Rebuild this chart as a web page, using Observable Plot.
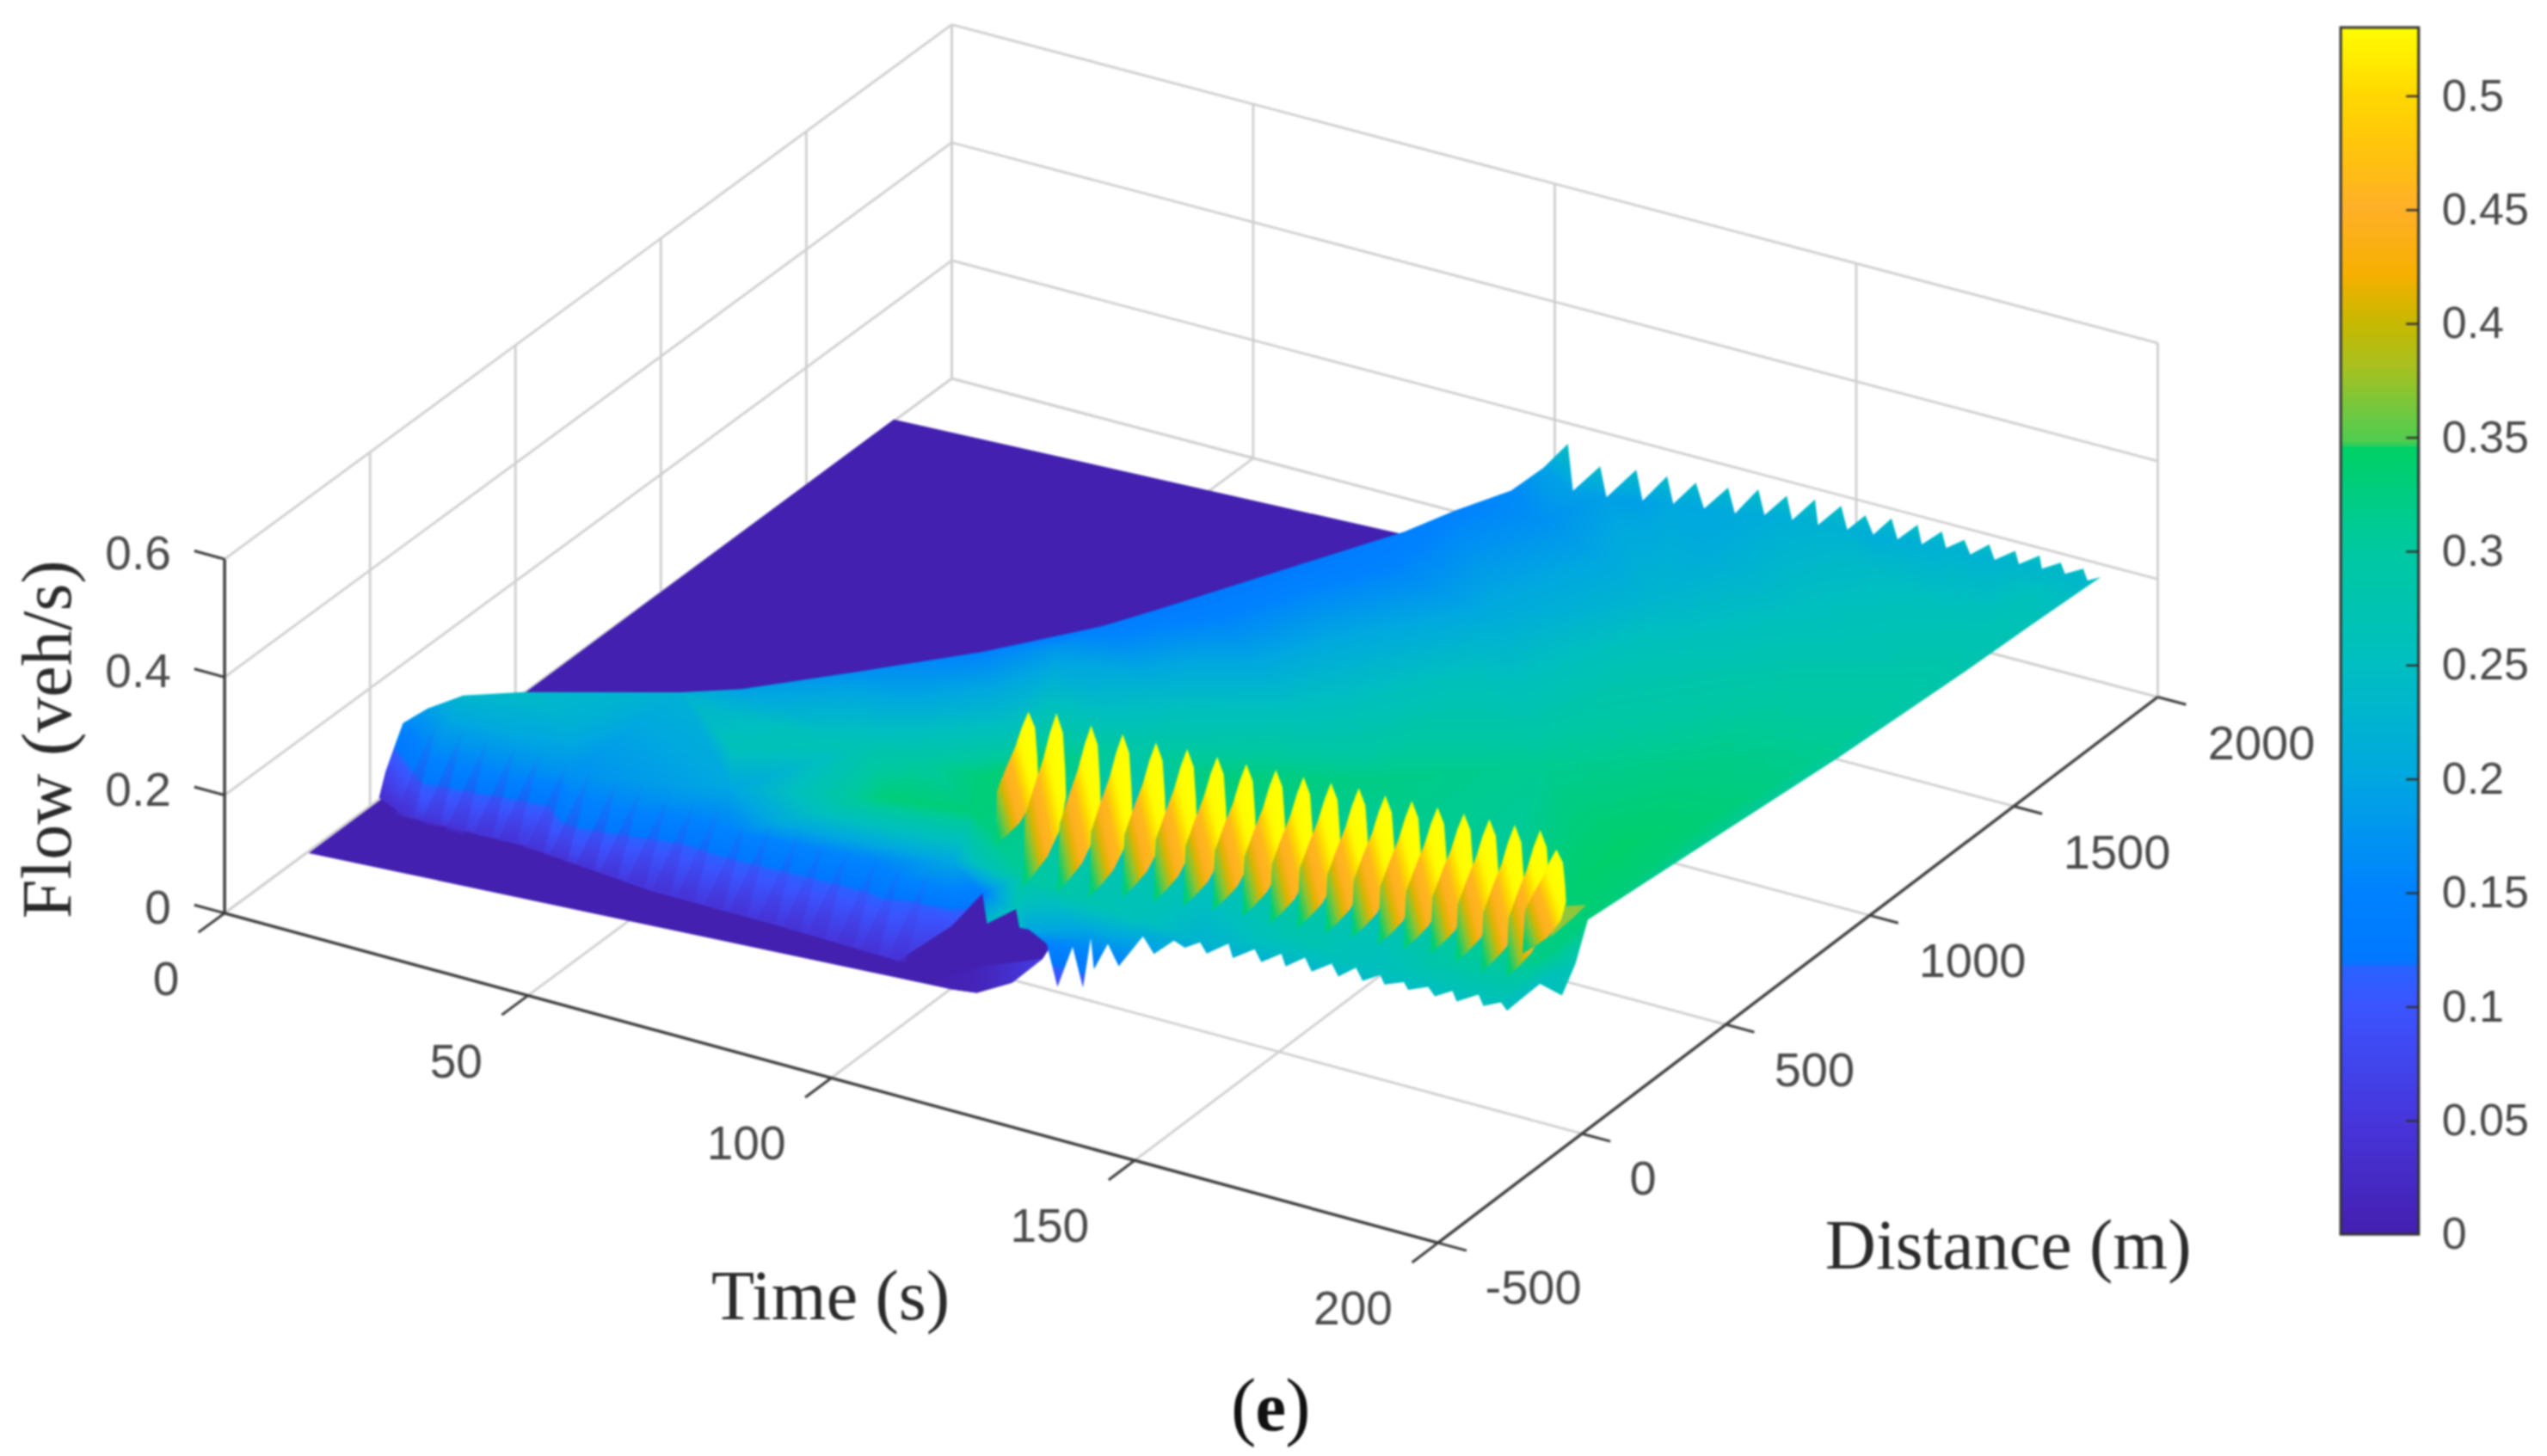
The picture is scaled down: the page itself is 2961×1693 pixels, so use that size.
<!DOCTYPE html>
<html><head><meta charset="utf-8">
<style>html,body{margin:0;padding:0;background:#fff}svg{display:block;filter:blur(0.9px)}</style>
<script src="https://cdn.jsdelivr.net/npm/d3@7"></script>
<script src="https://cdn.jsdelivr.net/npm/@observablehq/plot@0.6"></script>
</head><body>
<script>
// ---------- axis ticks ----------
const timeTicks = [0, 50, 100, 150, 200];
const distTicks = [-500, 0, 500, 1000, 1500, 2000];
const flowTicks = [0, 0.2, 0.4, 0.6];
const barTicks = [0, 0.05, 0.1, 0.15, 0.2, 0.25, 0.3, 0.35, 0.4, 0.45, 0.5];
const barTickLabels = ["0", "0.05", "0.1", "0.15", "0.2", "0.25", "0.3", "0.35", "0.4", "0.45", "0.5"];
// ---------- colour map ----------
const mapFlow = [0, 0.05, 0.1, 0.116, 0.119, 0.15, 0.2, 0.25, 0.3, 0.344, 0.347, 0.36, 0.38, 0.4, 0.42, 0.45, 0.47, 0.5, 0.53];
const mapColor = ["#4420b0", "#4736dc", "#3a55ff", "#2a62ff", "#0078ff", "#0082ff", "#00a8e0", "#00bfc0", "#00c9a0", "#00d066", "#50cc50", "#70c840", "#a8c020", "#c8b800", "#f5b000", "#ffb028", "#ffc010", "#ffd800", "#ffff00"];
// ---------- flat floor of the surface (flow = 0) ----------
const floorTime = [0.5, 1.6, 92.4, 94.3, 106.4, 106.6, 103.9, 100.4];
const floorDist = [-220, 1781, 1871, 677, 97, -13, -79, -90];
const lobeTime = [100.4, 103.9, 106.6, 106.4, 100.6, 96.3];
const lobeDist = [-90, -79, -13, 97, 19, -94];
// ---------- raised front of the surface, left end to far corner ----------
const ridgeTime = [3, 3.4, 5.1, 6.2, 9.7, 15.7, 23.4, 40.6, 44.6, 54.3, 64.1, 73.5, 76.9, 85.9, 94.8, 98.5, 103, 106.1];
const ridgeDist = [-29, -15, -19, -13, -1, -5, 42, 226, 352, 562, 780, 997, 1133, 1388, 1591, 1690, 1788, 1834];
const ridgeFlow = [0.03, 0.07, 0.12, 0.16, 0.19, 0.23, 0.24, 0.22, 0.19, 0.17, 0.15, 0.14, 0.13, 0.13, 0.14, 0.15, 0.16, 0.19];
// ---------- saw teeth along the far edge ----------
const peakTime = [110.9, 117.5, 122.4, 127.2, 131.7, 136.4, 140.8, 145.3, 149.2, 153.5, 157.5, 161.8, 166.1, 170.1, 173.8, 177.9, 182.2, 186.2, 189.7, 193.4, 196.3];
const peakDist = [1819, 1792, 1814, 1820, 1825, 1838, 1850, 1854, 1870, 1870, 1870, 1870, 1870, 1870, 1870, 1870, 1870, 1870, 1870, 1870, 1870];
const peakFlow = [0.25, 0.24, 0.24, 0.24, 0.24, 0.24, 0.245, 0.245, 0.244, 0.245, 0.24, 0.247, 0.248, 0.248, 0.244, 0.248, 0.249, 0.252, 0.25, 0.25, 0.244];
const valleyTime = [113.4, 118.5, 123.4, 128.6, 133.1, 138.1, 142.4, 147, 151.4, 155.7, 158.8, 162.8, 166.8, 170.8, 174.8, 178.8, 182.8, 186.6, 190.4, 194.1];
const valleyDist = [1784, 1793, 1815, 1812, 1824, 1826, 1838, 1837, 1834, 1845, 1870, 1870, 1870, 1870, 1870, 1870, 1870, 1870, 1870, 1870];
const valleyFlow = [0.19, 0.19, 0.19, 0.2, 0.2, 0.205, 0.21, 0.215, 0.22, 0.22, 0.211, 0.214, 0.217, 0.222, 0.222, 0.224, 0.228, 0.231, 0.233, 0.232];
// ---------- right edge, far to near ----------
const edgeTime = [197.6, 198.5, 198.9, 197.5, 197.4, 199.9, 194.4];
const edgeDist = [1599, 1356, 910, 71, 30, -69, -30];
const edgeFlow = [0.265, 0.28, 0.3, 0.33, 0.27, 0.26, 0.25];
// ---------- scalloped skirt under the tall humps, distance about -150 m ----------
const skirtDist = -150;
const skirtTime = [118.8, 120.6, 123.1, 124.8, 126.1, 126.6, 128.9, 130.7, 134.7, 136.5, 139.8, 141.6, 144.1, 145.2, 148.8, 149.5, 153.1, 154.2, 157.5, 158.2, 161.4, 162.5, 165.8, 166.9, 169.8, 170.9, 173.8, 174.5, 177.7, 178.4, 181.7, 182.8, 185.7, 186.4, 190, 190.8, 193.7, 194.7];
const skirtFlow = [0.151, 0.083, 0.158, 0.093, 0.181, 0.129, 0.179, 0.146, 0.208, 0.183, 0.215, 0.208, 0.224, 0.208, 0.235, 0.2125, 0.2375, 0.2186, 0.2422, 0.2224, 0.2463, 0.2257, 0.2485, 0.2296, 0.2527, 0.2338, 0.2514, 0.2374, 0.2504, 0.2394, 0.2535, 0.2408, 0.2579, 0.2418, 0.2636, 0.2466, 0.2609, 0.2493];
// ---------- low front edge, right to left ----------
const frontTime = [119, 121.4, 119.9, 116.8, 101.9, 98.7, 96.4, 94, 74.1, 52.6, 29.6, 10.4];
const frontDist = [-216, -298, -279, -314, -17, -56, -87, -143, -134, -133, -98, -89];
const frontFlow = [0.2, 0.24, 0.26, 0.24, 0.14, 0.09, 0.07, 0.05, 0.05, 0.05, 0.05, 0.04];
// ---------- samples inside the sheet ----------
const sheetTime = [52.3, 67.5, 75.5, 87.1, 98.8, 112.6, 141.3, 166.4, 193.2, 90.2, 102.8, 111.7, 126.2, 145.2, 171.6, 193.5, 106, 111.4, 123, 137.5, 155.5, 179.6, 195.4, 107.2, 106, 130.3, 149, 165.1, 185.7, 197.9, 192.1, 190.9, 196.5, 119.5, 136, 160.2, 185.7, 197.4, 84.2, 9.6, 14.1, 14.9, 32, 35.6, 38.6, 39.4, 59.2, 60.3, 62.6, 64.6, 92.9, 89.8, 86.9, 88.5, 75.8, 89, 101, 98.7];
const sheetDist = [156, 454, 793, 1111, 1425, 1698, 1658, 1692, 1692, 314, 613, 986, 1245, 1409, 1416, 1517, -129, 319, 637, 896, 1080, 1134, 1253, -154, 95, 204, 373, 597, 726, 920, 198, 338, 556, -244, -197, -142, -116, -81, -122, -16, -111, -127, 19, -57, -119, -135, 12, -11, -60, -102, -162, -98, -37, -70, 111, 48, 4, -56];
const sheetFlow = [0.24, 0.2, 0.18, 0.15, 0.15, 0.17, 0.21, 0.24, 0.26, 0.26, 0.24, 0.21, 0.21, 0.23, 0.26, 0.27, 0.33, 0.29, 0.26, 0.26, 0.27, 0.29, 0.29, 0.26, 0.33, 0.33, 0.32, 0.31, 0.32, 0.31, 0.34, 0.34, 0.33, 0.3, 0.26, 0.28, 0.3, 0.32, 0.06, 0.17, 0.13, 0.08, 0.22, 0.17, 0.13, 0.08, 0.26, 0.2, 0.15, 0.1, 0.33, 0.24, 0.16, 0.13, 0.27, 0.3, 0.33, 0.2];
// ---------- tall humps: position of each crest and how far it falls ----------
const humpTime = [114.3, 117.9, 124.1, 129.3, 134.7, 139.5, 144.4, 149.1, 153.6, 158.1, 162.4, 166.6, 171, 175.1, 179.2, 183.4, 187.4, 191.4, 195.3, 198.5];
const humpDist = [-118, -97, -107, -107, -105, -98, -97, -95, -87, -86, -81, -73, -74, -68, -65, -62, -58, -54, -48, -59];
const humpFlow = [0.52, 0.52, 0.52, 0.52, 0.52, 0.52, 0.52, 0.52, 0.52, 0.52, 0.52, 0.52, 0.52, 0.52, 0.52, 0.52, 0.52, 0.52, 0.52, 0.5];
const humpDepth = [0.78, 1, 0.96, 0.945, 0.9, 0.89, 0.87, 0.855, 0.855, 0.855, 0.845, 0.85, 0.83, 0.84, 0.83, 0.82, 0.835, 0.86, 0.86, 0.62];
// outline of one hump relative to its crest
const humpOffTime = [0, 1.08, 1.45, 1.59, 0.72, -1.45, -3.6, -5.6, -5.4, -5.2, -3.6, -2.17, -1.08];
const humpOffFlow = [0, -0.031, -0.093, -0.137, -0.192, -0.247, -0.282, -0.31, -0.258, -0.19, -0.132, -0.084, -0.037];
// small olive piece at the right end
const tailTime = [195.4, 198.7, 199.2, 199.6];
const tailDist = [9, 40, -14, -103];
const tailFlow = [0.37, 0.37, 0.37, 0.37];
// ---------- dark streaks at the foot of the raised front ----------
const streakTime = [10, 14.5, 18.7, 23.4, 27.5, 32.2, 36.3, 41, 45.1, 49.8, 54.1, 58.2, 63, 67.1, 71.8, 76, 80.2, 85, 89.1, 93.7];
const streakDist = [-90, -93, -95, -97, -99, -103, -108, -113, -118, -122, -125, -128, -130, -133, -134, -135, -137, -139, -141, -143];
const streakFlow = [0.04, 0.04, 0.04, 0.05, 0.05, 0.05, 0.05, 0.05, 0.05, 0.05, 0.05, 0.05, 0.05, 0.05, 0.05, 0.05, 0.05, 0.05, 0.05, 0.05];

// ---------- view of (time, distance, flow) on the page ----------
const K = 2961 / 1568;
const vx = (t, d) => K * (138 + 3.735 * t + 0.178 * (d + 500));
const vy = (t, d, f = 0) => K * (562 + 1.015 * t - 0.134 * (d + 500) - 363.3 * f);
const P = (t, d, f = 0) => ({x: vx(t, d), y: vy(t, d, f)});
// the axis box has a slight perspective: its far corners sit a little off the parallelogram
const Q = (t, d, f = 0) => {
  const a = t / 200, b = (d + 500) / 2500;
  return {x: vx(t, d) + 5 * (1 - a) * b - 3.6 * a * b, y: vy(t, d, f) + 11 * (1 - a) * b - 2 * a * b};
};
const barY = v => K * 760 - K * 1402 * v;

// ---------- assemble tables ----------
const outline = [];
ridgeTime.forEach((t, i) => outline.push({t, d: ridgeDist[i], f: ridgeFlow[i]}));
peakTime.forEach((t, i) => {
  outline.push({t, d: peakDist[i], f: peakFlow[i]});
  if (i < valleyTime.length) outline.push({t: valleyTime[i], d: valleyDist[i], f: valleyFlow[i]});
});
edgeTime.forEach((t, i) => outline.push({t, d: edgeDist[i], f: edgeFlow[i]}));
for (let i = skirtTime.length - 1; i >= 0; --i) outline.push({t: skirtTime[i], d: skirtDist, f: skirtFlow[i]});
frontTime.forEach((t, i) => outline.push({t, d: frontDist[i], f: frontFlow[i]}));
const interior = sheetTime.map((t, i) => ({t, d: sheetDist[i], f: sheetFlow[i]}));
const samples = outline.concat(interior).map(s => ({...P(s.t, s.d, s.f), flow: s.f}));

const floorPoly = floorTime.map((t, i) => P(t, floorDist[i]));
const lobePoly = lobeTime.map((t, i) => P(t, lobeDist[i]));
const tailPoly = tailTime.map((t, i) => P(t, tailDist[i], tailFlow[i]));
const humps = humpTime.flatMap((t, i) => humpOffTime.map((dt, j) => ({id: i, ...P(t + dt, humpDist[i], humpFlow[i] + humpOffFlow[j] * humpDepth[i])})));
const streaks = streakTime.flatMap((t, i) => [
  {id: i, ...P(t - 1.5, streakDist[i], streakFlow[i])},
  {id: i, ...P(t + 1.5, streakDist[i], streakFlow[i])},
  {id: i, ...P(t - 3.2, streakDist[i] + 190, 0.135)}
]);

// ---------- box, grid, axes ----------
const seg = (a, b) => ({x1: a.x, y1: a.y, x2: b.x, y2: b.y});
const T0 = 0, T1 = 200, D0 = -500, D1 = 2000, F1 = 0.6;
const grid = [];
for (const t of timeTicks) {
  grid.push(seg(Q(t, D0), Q(t, D1)));
  grid.push(seg(Q(t, D1), Q(t, D1, F1)));
}
for (const d of distTicks) {
  grid.push(seg(Q(T0, d), Q(T1, d)));
  grid.push(seg(Q(T0, d), Q(T0, d, F1)));
}
for (const f of flowTicks) {
  grid.push(seg(Q(T0, D0, f), Q(T0, D1, f)));
  grid.push(seg(Q(T0, D1, f), Q(T1, D1, f)));
}
const axes = [seg(Q(T0, D0), Q(T1, D0)), seg(Q(T1, D0), Q(T1, D1)), seg(Q(T0, D0), Q(T0, D0, F1))];
const ticks = [
  ...timeTicks.map(t => seg(Q(t, D0), Q(t, D0 - 90))),
  ...distTicks.map(d => seg(Q(T1, d), Q(T1 + 4.7, d))),
  ...flowTicks.map(f => seg(Q(T0, D0, f), Q(T0 - 5, D0, f)))
];
const barColors = d3.range(0, 0.53, 0.002);

const serif = "Liberation Serif, Times New Roman, serif";
const sans = "Liberation Sans, Arial, sans-serif";
const tickInk = "#4a4a4a";
const titleInk = "#2a2a2a";

const plot = Plot.plot({
  width: 2961, height: 1693,
  marginLeft: 0, marginRight: 0, marginTop: 0, marginBottom: 0,
  style: {background: "#fff"},
  x: {domain: [0, 2961], range: [0, 2961], axis: null},
  y: {domain: [0, 1693], range: [0, 1693], axis: null},
  color: {type: "linear", domain: mapFlow, range: mapColor, clamp: true},
  marks: [
    Plot.link(grid, {x1: "x1", y1: "y1", x2: "x2", y2: "y2", stroke: "#cfcfcf", strokeWidth: 2.8}),
    Plot.link(axes, {x1: "x1", y1: "y1", x2: "x2", y2: "y2", stroke: "#3c3c3c", strokeWidth: 3.4}),
    Plot.link(ticks, {x1: "x1", y1: "y1", x2: "x2", y2: "y2", stroke: "#3c3c3c", strokeWidth: 3}),
    // floor
    Plot.line(floorPoly, {x: "x", y: "y", fill: "#4320b0", stroke: "none", curve: "linear-closed"}),
    Plot.line(lobePoly, {x: "x", y: "y", fill: "url(#lobeFill)", stroke: "none", curve: "linear-closed"}),
    // smooth sheet
    Plot.raster(samples, {x: "x", y: "y", fill: "flow", interpolate: "barycentric", x1: 380, x2: 2500, y1: 480, y2: 1220, pixelSize: 1}),
    Plot.line(streaks, {x: "x", y: "y", z: "id", fill: "url(#streakFill)", stroke: "none", curve: "linear-closed"}),
    Plot.line(tailPoly, {x: "x", y: "y", fill: "#8fc63c", stroke: "none", curve: "linear-closed"}),
    Plot.line(humps, {x: "x", y: "y", z: "id", fill: "url(#humpFill)", stroke: "none", curve: "linear-closed"}),
    // tick labels
    Plot.text(timeTicks, {x: t => vx(t, D0), y: t => vy(t, D0), text: d => String(d), textAnchor: "end", dx: -K * 28, dy: K * 41, fontSize: 55, fontFamily: sans, fill: tickInk}),
    Plot.text(distTicks, {x: d => vx(T1, d), y: d => vy(T1, d), text: d => String(d), textAnchor: "start", dx: K * 29, dy: K * 28, fontSize: 56, fontFamily: sans, fill: tickInk}),
    Plot.text(flowTicks, {x: f => vx(T0, D0), y: f => vy(T0, D0, f), text: d => String(d), textAnchor: "end", dx: -K * 33, dy: -K * 3, fontSize: 55, fontFamily: sans, fill: tickInk}),
    // axis titles
    Plot.text(["Flow (veh/s)"], {x: K * 29, y: K * 455, text: d => d, rotate: -90, fontSize: 82, fontFamily: serif, fill: titleInk}),
    Plot.text(["Time (s)"], {x: K * 511, y: K * 798, text: d => d, fontSize: 82, fontFamily: serif, fill: titleInk}),
    Plot.text(["Distance (m)"], {x: K * 1236, y: K * 767, text: d => d, fontSize: 82, fontFamily: serif, fill: titleInk}),
    // panel letter
    Plot.text(["("], {x: K * 773, y: K * 866, text: d => d, textAnchor: "end", fontSize: 88, fontFamily: serif, fill: "#111"}),
    Plot.text(["e"], {x: K * 782, y: K * 867, text: d => d, fontSize: 80, fontWeight: "bold", fontFamily: serif, fill: "#111"}),
    Plot.text([")"], {x: K * 791, y: K * 866, text: d => d, textAnchor: "start", fontSize: 88, fontFamily: serif, fill: "#111"}),
    // colour bar
    Plot.rect(barColors, {x1: K * 1441, x2: K * 1489, y1: v => barY(v), y2: v => barY(v + 0.0024), fill: v => v, shapeRendering: "crispEdges"}),
    Plot.rect([0], {x1: K * 1441, x2: K * 1489, y1: barY(0), y2: barY(0.53), fill: "none", stroke: "#333", strokeWidth: 3}),
    Plot.link(barTicks.slice(1), {x1: K * 1481, x2: K * 1489, y1: v => barY(v), y2: v => barY(v), stroke: "#333", strokeWidth: 2.5}),
    Plot.text(barTicks, {x: K * 1503, y: v => barY(v), text: (v, i) => barTickLabels[i], textAnchor: "start", fontSize: 52, fontFamily: sans, fill: tickInk})
  ]
});

// gradients and sheet outline, coloured from the plot's own scales
const NS = "http://www.w3.org/2000/svg";
const col = plot.scale("color");
const sx = plot.scale("x"), sy = plot.scale("y");
const defs = document.createElementNS(NS, "defs");
function gradient(id, coords, stops) {
  const g = document.createElementNS(NS, "linearGradient");
  g.setAttribute("id", id);
  for (const k in coords) g.setAttribute(k, coords[k]);
  for (const [o, v, a] of stops) {
    const s = document.createElementNS(NS, "stop");
    s.setAttribute("offset", o);
    s.setAttribute("stop-color", col.apply(v));
    if (a != null) s.setAttribute("stop-opacity", a);
    g.append(s);
  }
  defs.append(g);
}
gradient("humpFill", {x1: 0.1, y1: 0.95, x2: 0.85, y2: 0.35}, [[0, 0.33], [0.2, 0.37], [0.33, 0.41], [0.45, 0.445], [0.6, 0.46], [0.72, 0.5], [0.85, 0.525], [1, 0.53]]);
gradient("lobeFill", {x1: 0, y1: 0, x2: 1, y2: 0}, [[0, 0], [0.45, 0.01], [1, 0.06]]);
gradient("streakFill", {x1: 0, y1: 1, x2: 0, y2: 0}, [[0, 0.035, 0.6], [0.5, 0.06, 0.25], [1, 0.09, 0]]);
const clip = document.createElementNS(NS, "clipPath");
clip.setAttribute("id", "sheetClip");
const path = document.createElementNS(NS, "path");
path.setAttribute("d", "M" + outline.map(s => { const p = P(s.t, s.d, s.f); return sx.apply(p.x) + "," + sy.apply(p.y); }).join("L") + "Z");
clip.append(path);
defs.append(clip);
plot.prepend(defs);
plot.querySelector("image").parentNode.setAttribute("clip-path", "url(#sheetClip)");
document.body.append(plot);
</script>
</body></html>
